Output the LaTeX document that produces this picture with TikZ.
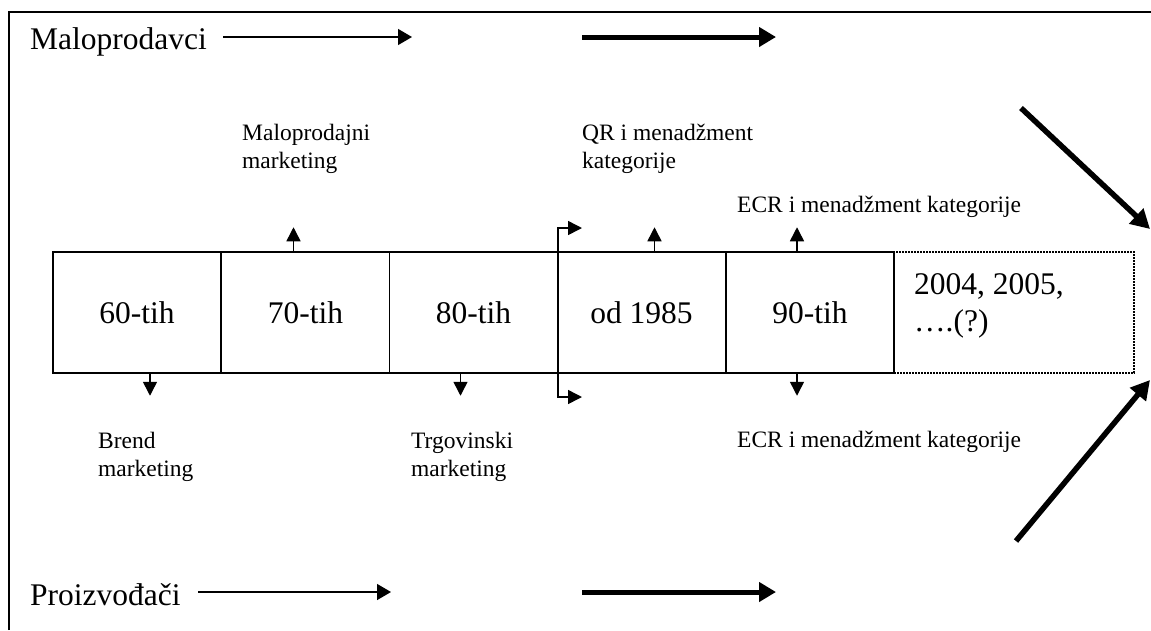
\documentclass[tikz,border=0pt]{standalone}
\usepackage{fontspec}
\setmainfont{Liberation Serif}
\usetikzlibrary{arrows.meta,calc}

\begin{document}
\begin{tikzpicture}[x=1pt,y=-1pt,
  bigtext/.style={font=\fontsize{31.5}{37}\selectfont, inner sep=0pt},
  smalltext/.style={font=\fontsize{23.5}{27.5}\selectfont, inner sep=0pt, align=left},
  period/.style={draw, line width=1.5pt, minimum width=168pt, minimum height=121pt,
                 inner sep=0pt, font=\fontsize{31.5}{37}\selectfont},
  future/.style={draw, line width=1.5pt, dash pattern=on 1.6pt off 1.4pt,
                 minimum width=240pt, minimum height=121pt, inner sep=0pt},
  thinarrow/.style={line width=1.4pt, -{Triangle[length=14pt,width=16pt]}},
  thickarrow/.style={line width=5pt, -{Triangle[length=17pt,width=19pt]}},
  diagarrow/.style={line width=5.5pt, -{Triangle[length=19pt,width=20pt]}},
  smallarrow/.style={line width=1.5pt, -{Triangle[length=14pt,width=14pt]}},
  bracketarrow/.style={line width=1.5pt, {Triangle[length=14pt,width=14pt]}-{Triangle[length=14pt,width=14pt]}}
]
\useasboundingbox (0,0) rectangle (1151,630);

% outer frame
\draw[line width=1.6pt] (9,630) -- (9,12) -- (1151,12);

% actors
\node[bigtext, anchor=base west] (malo) at (30,49) {Maloprodavci};
\node[bigtext, anchor=base west] (proiz) at (30,605) {Proizvođači};

\coordinate (ma1) at (223,37);  \coordinate (ma2) at (412,37);
\coordinate (ma3) at (582,37);  \coordinate (ma4) at (776,37);
\coordinate (pr1) at (198,592); \coordinate (pr2) at (391,592);
\coordinate (pr3) at (582,592); \coordinate (pr4) at (776,592);
\draw[thinarrow] (ma1) -- (ma2);
\draw[thickarrow] (ma3) -- (ma4);
\draw[thinarrow] (pr1) -- (pr2);
\draw[thickarrow] (pr3) -- (pr4);

% timeline of periods
\node[future] (b04) at (1014,312.5) {};
\node[period] (b60) at (137,312.5) {60-tih};
\node[period] (b70) at (305.5,312.5) {70-tih};
\node[period] (b80) at (473.5,312.5) {80-tih};
\node[period] (b85) at (641.5,312.5) {od 1985};
\node[period] (b90) at (810,312.5) {90-tih};
% (base anchor of a multi-line node sits on its last line)
\node[bigtext, align=left, anchor=base west] (t04) at (914,331) {2004, 2005,\\….(?)};

% concepts above the timeline
\node[smalltext, anchor=base west] (lmal) at (242,168) {Maloprodajni\\marketing};
\node[smalltext, anchor=base west] (lqr) at (582,168) {QR i menadžment\\kategorije};
\node[smalltext, anchor=base west] (lecr1) at (737,212) {ECR i menadžment kategorije};

% concepts below the timeline
\node[smalltext, anchor=base west] (lbr) at (98,476) {Brend\\marketing};
\node[smalltext, anchor=base west] (ltr) at (411,476) {Trgovinski\\marketing};
\node[smalltext, anchor=base west] (lecr2) at (737,447) {ECR i menadžment kategorije};

% small arrows from the periods
\draw[smallarrow] ($(b70.north)+(-12,0)$) -- ++(0,-24);
\draw[smallarrow] ($(b85.north)+(13,0)$) -- ++(0,-24);
\draw[smallarrow] ($(b90.north)+(-13,0)$) -- ++(0,-24);
\draw[smallarrow] ($(b60.south)+(13,0)$) -- ++(0,22);
\draw[smallarrow] ($(b80.south)+(-13,0)$) -- ++(0,22);
\draw[smallarrow] ($(b90.south)+(-13,0)$) -- ++(0,22);

% bracket at the start of the QR period
\coordinate (qt) at (582,228);
\coordinate (qb) at (582,397);
\draw[bracketarrow] (qt) -- ++(-24,0) |- (qb);

% converging arrows towards the future
\coordinate (d1s) at (1021,108); \coordinate (d1e) at (1150,229);
\coordinate (d2s) at (1016,541); \coordinate (d2e) at (1150,380);
\draw[diagarrow] (d1s) -- (d1e);
\draw[diagarrow] (d2s) -- (d2e);
\end{tikzpicture}
\end{document}
